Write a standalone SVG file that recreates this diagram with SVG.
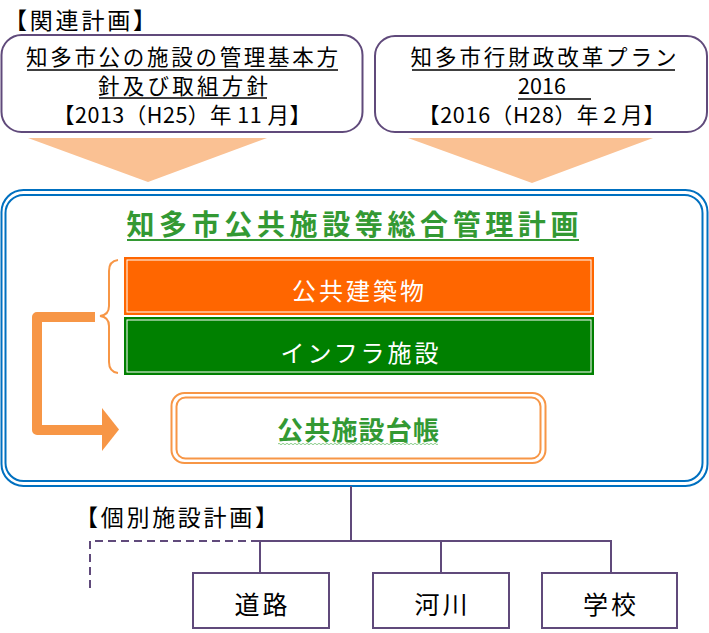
<svg xmlns="http://www.w3.org/2000/svg" width="709" height="633" viewBox="0 0 709 633">
<style>
.t{font-family:"Noto Sans CJK JP","Noto Sans",sans-serif;}
.blk{fill:#000;font-size:21.5px;text-anchor:middle;}
.lbl{fill:#000;font-size:23px;}
.purp{fill:#fff;stroke:#604A7B;stroke-width:2;}
.ul{stroke:#000;stroke-width:1.5;}
.con{stroke:#604A7B;stroke-width:2;fill:none;}
.wt{fill:#fff;font-size:24px;text-anchor:middle;}
.bx{fill:#000;font-size:25px;text-anchor:middle;}
</style>
<defs>
<pattern id="wave" width="4" height="4" patternUnits="userSpaceOnUse" x="278" y="442">
<path d="M0 2 Q1 0.6 2 2 T4 2" fill="none" stroke="#7CC67C" stroke-width="0.9"/>
</pattern>
</defs>
<rect width="709" height="633" fill="#fff"/>

<g id="related-label">
<text class="t lbl" x="4" y="29" textLength="152">【関連計画】</text>
</g>

<g id="plan-left">
<rect class="purp" x="1.5" y="35" width="361" height="97" rx="20"/>
<text class="t blk" x="182" y="65" textLength="312">知多市公の施設の管理基本方</text>
<line class="ul" x1="27" y1="70" x2="338" y2="70"/>
<text class="t blk" x="183" y="94" textLength="170">針及び取組方針</text>
<line class="ul" x1="99" y1="98" x2="267" y2="98"/>
<text class="t blk" x="182" y="123" textLength="258">【2013（H25）年 11 月】</text>
</g>

<g id="plan-right">
<rect class="purp" x="375" y="36" width="332" height="96" rx="20"/>
<text class="t blk" x="543.5" y="65" textLength="266">知多市行財政改革プラン</text>
<line class="ul" x1="412" y1="70" x2="675" y2="70"/>
<text class="t blk" x="542" y="94" textLength="48">2016</text>
<line class="ul" x1="518" y1="99" x2="591" y2="99"/>
<text class="t blk" x="541.5" y="123" textLength="247">【2016（H28）年２月】</text>
</g>

<g id="arrows-down">
<polygon points="28,138 267,138 148,182" fill="#FAC193"/>
<polygon points="408,138 653,138 532,183" fill="#FAC193"/>
</g>

<g id="main-plan">
<rect x="1.5" y="190" width="706" height="296" rx="22" fill="#fff" stroke="#0070C0" stroke-width="2"/>
<rect x="5.5" y="195" width="697" height="286" rx="18" fill="none" stroke="#0070C0" stroke-width="2"/>
<text class="t" x="352.5" y="235" font-size="28" font-weight="bold" fill="#339933" text-anchor="middle" textLength="452">知多市公共施設等総合管理計画</text>
<line x1="127" y1="240" x2="579" y2="240" stroke="#339933" stroke-width="2"/>
</g>

<g id="public-buildings">
<rect x="124" y="257" width="470" height="58" fill="#FF6600"/>
<rect x="127" y="260" width="464" height="52" fill="none" stroke="#fff" stroke-width="1"/>
<text class="t wt" x="358" y="300" textLength="132">公共建築物</text>
</g>

<g id="infrastructure">
<rect x="124" y="317" width="470" height="58" fill="#008000"/>
<rect x="127" y="320" width="464" height="52" fill="none" stroke="#fff" stroke-width="1"/>
<text class="t wt" x="359.5" y="362" textLength="158">インフラ施設</text>
</g>

<g id="brace">
<path d="M118 260 Q109 261 109 271 L109 306 Q109 315 100 316 Q109 317 109 326 L109 362 Q109 372 118 373" fill="none" stroke="#F79646" stroke-width="2"/>
</g>

<g id="ledger">
<rect x="171.5" y="393" width="374" height="70" rx="13" fill="#fff" stroke="#F79646" stroke-width="2"/>
<rect x="176.5" y="397.5" width="364" height="61" rx="9" fill="none" stroke="#F79646" stroke-width="2"/>
<text class="t" x="358" y="440" font-size="26" font-weight="bold" fill="#339933" text-anchor="middle" textLength="162">公共施設台帳</text>
<rect x="278" y="442" width="160" height="4" fill="url(#wave)"/>
</g>

<g id="individual-label">
<text class="t lbl" x="75" y="526" textLength="203">【個別施設計画】</text>
</g>

<g id="road">
<rect class="purp" x="193" y="573" width="136" height="55"/>
<text class="t bx" x="261" y="614" textLength="53">道路</text>
</g>
<g id="river">
<rect class="purp" x="373" y="573" width="136" height="55"/>
<text class="t bx" x="441" y="614" textLength="53">河川</text>
</g>
<g id="school">
<rect class="purp" x="542" y="573" width="135" height="55"/>
<text class="t bx" x="609.5" y="614" textLength="53">学校</text>
</g>

<g id="connectors">
<path d="M95 317 L37 317 L37 430 L104 430" fill="none" stroke="#F79646" stroke-width="10" stroke-linejoin="round"/>
<polygon points="102,408 119,429.5 102,451" fill="#F79646"/>
<line class="con" x1="351" y1="486" x2="351" y2="541"/>
<line class="con" x1="259" y1="541" x2="612" y2="541"/>
<line class="con" x1="260" y1="541" x2="260" y2="573"/>
<line class="con" x1="441" y1="541" x2="441" y2="573"/>
<line class="con" x1="611" y1="541" x2="611" y2="573"/>
<path class="con" d="M259 541 L90 541 L90 588" stroke-dasharray="8,5"/>
</g>
</svg>
